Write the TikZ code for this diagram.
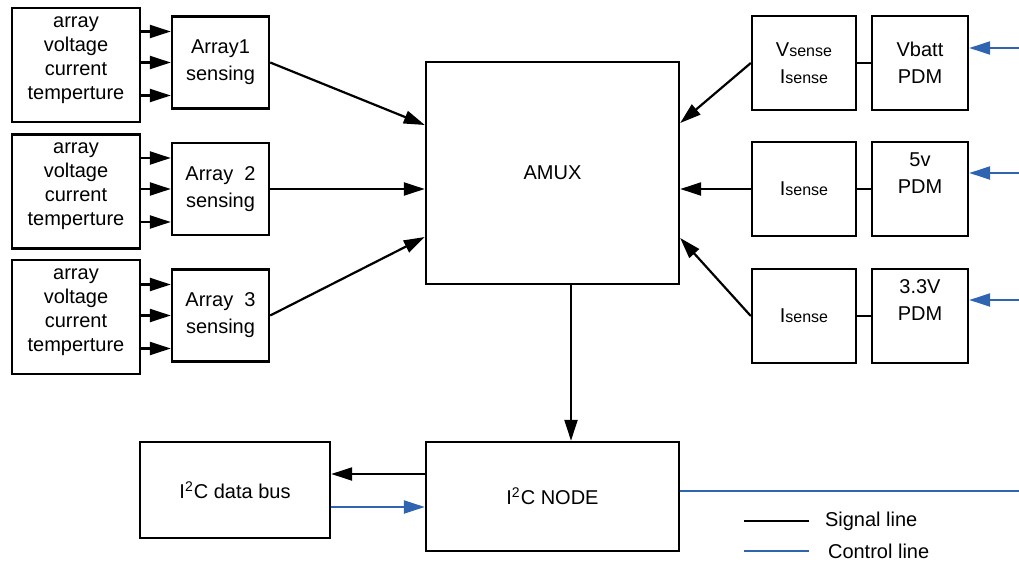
\documentclass[tikz,border=0pt]{standalone}
\usepackage{fontspec}
\setmainfont{Liberation Sans}
\usetikzlibrary{arrows.meta,calc}
\definecolor{ctlblue}{RGB}{46,100,176}
\tikzset{
  box/.style={draw,line width=1.2pt,inner sep=0pt,align=center},
  inlbl/.style={align=center,yshift=2.5pt,font=\fontsize{10}{12}\selectfont},
  inbox/.style={box,minimum width=64pt,minimum height=57pt,
    label={[inlbl]center:{array\\voltage\\current\\temperture}}},
  senbox/.style={box,minimum width=48.5pt,minimum height=46pt},
  vsbox/.style={box,minimum width=52pt,minimum height=47pt},
  pdmbox/.style={box,minimum width=48pt,minimum height=47pt},
  sig/.style={line width=1.1pt,-{Triangle[length=10.5pt,width=6.5pt]}},
  ctl/.style={line width=1.1pt,color=ctlblue,-{Triangle[length=10.5pt,width=6.5pt]}},
}
\newcommand{\sml}[1]{{\fontsize{8}{9}\selectfont #1}}
\begin{document}
\begin{tikzpicture}
  [x=0.5pt,y=-0.5pt,every node/.style={font=\fontsize{10}{13.5}\selectfont}]
  \useasboundingbox (0,0) rectangle (1019,562);

  % sensor inputs
  \node[inbox] (in1) at (76,65) {};
  \node[inbox] (in2) at (76,191.5) {};
  \node[inbox] (in3) at (76,317) {};

  \node[senbox] (sen1) at (220.5,62.5) {Array1\\sensing};
  \node[senbox] (sen2) at (220.5,189) {Array\ \ 2\\sensing};
  \node[senbox] (sen3) at (220.5,315.5) {Array\ \ 3\\sensing};

  \node[box,minimum width=126.5pt,minimum height=111pt] (amux) at (552.5,173) {AMUX};
  \node[box,minimum width=126.5pt,minimum height=54.5pt] (node) at (552.5,496.5) {I\textsuperscript{2}C NODE};
  \node[box,minimum width=95pt,minimum height=48pt] (bus) at (235,490) {I\textsuperscript{2}C data bus};

  % power side
  \node[vsbox] (vs1) at (804,63) {V\sml{sense}\\I\sml{sense}};
  \node[vsbox] (vs2) at (804,189) {I\sml{sense}};
  \node[vsbox] (vs3) at (804,316) {I\sml{sense}};
  \node[pdmbox] (pdm1) at (920,63) {Vbatt\\PDM};
  \node[pdmbox,label={[align=center,yshift=8pt]center:{5v\\PDM}}] (pdm2) at (920,189) {};
  \node[pdmbox,label={[align=center,yshift=8pt]center:{3.3V\\PDM}}] (pdm3) at (920,316) {};

  \coordinate (c1) at (1019,48);
  \coordinate (c2) at (1019,173);
  \coordinate (c3) at (1019,300);
  \coordinate (c4) at (1019,491);

  \foreach \i in {1,2,3}
    \foreach \dy in {-31,0,33}
      \draw[sig] (in\i.east |- sen\i.west) ++(0,\dy) coordinate (t) -- (t -| sen\i.west);

  \draw[sig] (sen1.east) -- ($(amux.west)+(0,-48)$);
  \draw[sig] (sen2.east) -- (sen2.east -| amux.west);
  \draw[sig] (sen3.east) -- ($(amux.west)+(0,64)$);

  \draw[sig] (vs1.west) -- ($(amux.east)+(0,-50)$);
  \draw[sig] (vs2.west) -- (vs2.west -| amux.east);
  \draw[sig] (vs3.west) -- ($(amux.east)+(0,65)$);

  \foreach \i in {1,2,3} {
    \draw[line width=1.1pt] (vs\i.east) -- (pdm\i.west);
    \draw[ctl] (c\i) -- (c\i -| pdm\i.east);
  }

  \draw[sig] (amux.south) ++(18.5,0) coordinate (d) -- (d |- node.north);
  \draw[sig] (node.west) ++(0,-22.5) coordinate (a) -- (a -| bus.east);
  \draw[ctl] (bus.east) ++(0,17) coordinate (b) -- (b -| node.west);
  \draw[line width=1.1pt,color=ctlblue] (c4 -| node.east) -- (c4);

  % legend
  \node[anchor=west] (sigtxt) at (818,521) {Signal line};
  \node[anchor=west] (ctltxt) at (821,551) {Control line};
  \draw[line width=1.1pt] (sigtxt.west) ++(-9,0) -- ++(-65,0);
  \draw[line width=1.1pt,color=ctlblue] (ctltxt.west) ++(-12,0) -- ++(-65,0);

\end{tikzpicture}
\end{document}
